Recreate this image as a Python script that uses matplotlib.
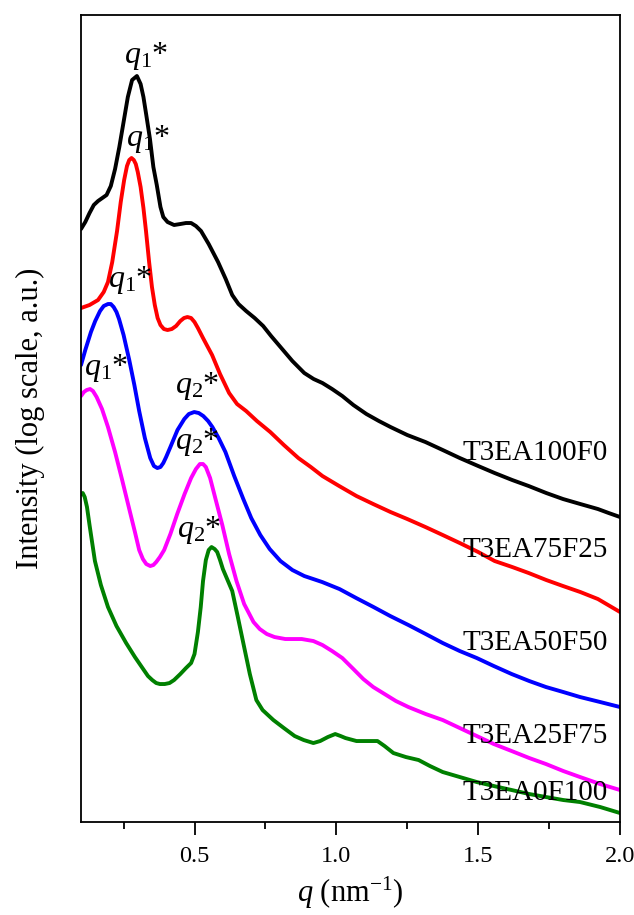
import matplotlib
matplotlib.use("Agg")
import matplotlib.pyplot as plt
from matplotlib.ticker import MultipleLocator, NullLocator

plt.rcParams["font.family"] = ["Liberation Serif", "DejaVu Serif"]
plt.rcParams["mathtext.fontset"] = "custom"
plt.rcParams["mathtext.rm"] = "Liberation Serif"
plt.rcParams["mathtext.it"] = "Liberation Serif:italic"

# SAXS profiles, q in nm^-1, intensity as stacked log values (a.u.)
q_100F0 = [0.10, 0.115, 0.13, 0.145, 0.16, 0.175, 0.19, 0.205, 0.22, 0.235, 0.25, 0.265,
           0.28, 0.297, 0.31, 0.32, 0.33, 0.343, 0.355, 0.367, 0.38, 0.39, 0.405, 0.428,
           0.45, 0.47, 0.488, 0.505, 0.523, 0.55, 0.583, 0.61, 0.633, 0.655, 0.682, 0.712,
           0.742, 0.77, 0.803, 0.845, 0.887, 0.92, 0.951, 0.985, 1.021, 1.06, 1.106, 1.15,
           1.191, 1.25, 1.314, 1.375, 1.435, 1.5, 1.558, 1.62, 1.678, 1.74, 1.799, 1.86,
           1.922, 1.96, 2.0]
i_100F0 = [5.93, 6.00, 6.09, 6.17, 6.21, 6.24, 6.27, 6.36, 6.53, 6.75, 7.00, 7.25,
           7.42, 7.46, 7.38, 7.25, 7.07, 6.83, 6.55, 6.37, 6.15, 6.05, 6.00, 5.97,
           5.98, 5.99, 5.99, 5.96, 5.91, 5.78, 5.60, 5.43, 5.27, 5.18, 5.11, 5.04,
           4.96, 4.86, 4.75, 4.61, 4.49, 4.43, 4.39, 4.33, 4.26, 4.17, 4.08, 4.01,
           3.95, 3.87, 3.80, 3.72, 3.64, 3.56, 3.49, 3.42, 3.36, 3.29, 3.23, 3.18,
           3.13, 3.09, 3.05]

q_75F25 = [0.10, 0.13, 0.16, 0.18, 0.195, 0.21, 0.227, 0.24, 0.252, 0.262, 0.27, 0.278,
           0.286, 0.293, 0.30, 0.31, 0.32, 0.329, 0.34, 0.35, 0.36, 0.37, 0.38, 0.392,
           0.405, 0.42, 0.435, 0.45, 0.463, 0.475, 0.488, 0.50, 0.512, 0.53, 0.545, 0.562,
           0.59, 0.622, 0.65, 0.682, 0.72, 0.767, 0.815, 0.866, 0.91, 0.951, 1.01, 1.071,
           1.13, 1.191, 1.25, 1.314, 1.375, 1.435, 1.5, 1.558, 1.62, 1.678, 1.74, 1.799,
           1.86, 1.922, 2.0]
i_75F25 = [5.14, 5.17, 5.22, 5.30, 5.40, 5.60, 5.91, 6.20, 6.42, 6.56, 6.62, 6.64,
           6.62, 6.58, 6.50, 6.35, 6.14, 5.91, 5.60, 5.35, 5.17, 5.04, 4.97, 4.93,
           4.92, 4.93, 4.96, 5.01, 5.04, 5.05, 5.04, 5.00, 4.94, 4.84, 4.76, 4.67,
           4.48, 4.29, 4.18, 4.11, 4.01, 3.90, 3.77, 3.64, 3.55, 3.46, 3.36, 3.26,
           3.18, 3.10, 3.03, 2.95, 2.87, 2.79, 2.70, 2.61, 2.55, 2.49, 2.42, 2.36,
           2.30, 2.23, 2.10]

q_50F50 = [0.10, 0.115, 0.135, 0.15, 0.167, 0.18, 0.195, 0.205, 0.215, 0.225, 0.234, 0.25,
           0.27, 0.288, 0.305, 0.325, 0.344, 0.357, 0.369, 0.38, 0.39, 0.40, 0.415, 0.44,
           0.464, 0.48, 0.499, 0.515, 0.531, 0.548, 0.563, 0.585, 0.609, 0.64, 0.672, 0.70,
           0.732, 0.765, 0.803, 0.845, 0.887, 0.95, 1.011, 1.07, 1.131, 1.19, 1.254, 1.315,
           1.375, 1.435, 1.495, 1.555, 1.618, 1.68, 1.739, 1.8, 1.859, 1.93, 2.0]
i_50F50 = [4.57, 4.72, 4.90, 5.01, 5.11, 5.16, 5.18, 5.18, 5.15, 5.10, 5.03, 4.87,
           4.62, 4.37, 4.11, 3.84, 3.64, 3.56, 3.54, 3.55, 3.59, 3.65, 3.75, 3.92,
           4.03, 4.08, 4.10, 4.09, 4.06, 4.01, 3.95, 3.84, 3.70, 3.46, 3.23, 3.04,
           2.87, 2.73, 2.61, 2.52, 2.46, 2.40, 2.33, 2.24, 2.15, 2.06, 1.97, 1.88,
           1.79, 1.71, 1.64, 1.56, 1.48, 1.41, 1.35, 1.30, 1.25, 1.20, 1.15]

q_25F75 = [0.10, 0.11, 0.12, 0.132, 0.142, 0.155, 0.174, 0.195, 0.22, 0.245, 0.27, 0.29,
           0.305, 0.318, 0.33, 0.344, 0.355, 0.365, 0.378, 0.393, 0.415, 0.439, 0.465, 0.488,
           0.505, 0.519, 0.53, 0.54, 0.555, 0.575, 0.598, 0.622, 0.648, 0.675, 0.708, 0.73,
           0.755, 0.782, 0.82, 0.878, 0.919, 0.951, 0.985, 1.021, 1.06, 1.095, 1.13, 1.17,
           1.21, 1.254, 1.315, 1.375, 1.435, 1.495, 1.555, 1.618, 1.68, 1.739, 1.8, 1.859,
           1.93, 2.0]
i_25F75 = [4.26, 4.30, 4.32, 4.33, 4.31, 4.25, 4.13, 3.95, 3.70, 3.42, 3.13, 2.90,
           2.72, 2.63, 2.58, 2.56, 2.57, 2.60, 2.65, 2.72, 2.88, 3.08, 3.28, 3.44,
           3.53, 3.58, 3.58, 3.55, 3.44, 3.22, 2.97, 2.68, 2.41, 2.18, 2.00, 1.93,
           1.88, 1.85, 1.83, 1.83, 1.81, 1.77, 1.71, 1.64, 1.53, 1.43, 1.35, 1.28,
           1.21, 1.15, 1.08, 1.02, 0.94, 0.86, 0.78, 0.71, 0.64, 0.58, 0.51, 0.45,
           0.38, 0.32]

q_0F100 = [0.10, 0.106, 0.113, 0.121, 0.13, 0.14, 0.149, 0.17, 0.195, 0.225, 0.259, 0.29,
           0.319, 0.336, 0.351, 0.365, 0.378, 0.395, 0.412, 0.428, 0.45, 0.47, 0.488, 0.50,
           0.512, 0.522, 0.53, 0.54, 0.55, 0.56, 0.571, 0.58, 0.59, 0.60, 0.615, 0.633,
           0.652, 0.672, 0.695, 0.718, 0.74, 0.778, 0.815, 0.853, 0.885, 0.919, 0.943, 0.97,
           0.996, 1.015, 1.032, 1.071, 1.11, 1.145, 1.17, 1.201, 1.245, 1.29, 1.33, 1.375,
           1.435, 1.495, 1.555, 1.618, 1.68, 1.739, 1.8, 1.859, 1.93, 2.0]
i_0F100 = [3.28, 3.29, 3.25, 3.15, 2.97, 2.78, 2.61, 2.37, 2.15, 1.96, 1.79, 1.65,
           1.53, 1.46, 1.42, 1.39, 1.38, 1.38, 1.39, 1.42, 1.48, 1.54, 1.59, 1.68,
           1.90, 2.15, 2.41, 2.62, 2.72, 2.75, 2.73, 2.70, 2.62, 2.53, 2.43, 2.31,
           2.06, 1.79, 1.48, 1.22, 1.12, 1.02, 0.94, 0.86, 0.82, 0.79, 0.81, 0.85,
           0.88, 0.86, 0.84, 0.81, 0.81, 0.81, 0.76, 0.69, 0.65, 0.62, 0.56, 0.50,
           0.45, 0.40, 0.36, 0.32, 0.28, 0.25, 0.22, 0.20, 0.15, 0.09]

names = ["T3EA100F0", "T3EA75F25", "T3EA50F50", "T3EA25F75", "T3EA0F100"]
q_data = [q_100F0, q_75F25, q_50F50, q_25F75, q_0F100]
i_data = [i_100F0, i_75F25, i_50F50, i_25F75, i_0F100]
colors = ["black", "#ff0000", "#0000ff", "#ff00ff", "#008000"]
label_y = [3.62, 2.65, 1.72, 0.79, 0.22]

# peak markers: (text, q, baseline)
peak_labels = [
    (r"$q_1$*", 0.251, 7.59),
    (r"$q_1$*", 0.259, 6.76),
    (r"$q_1$*", 0.195, 5.35),
    (r"$q_1$*", 0.111, 4.47),
    (r"$q_2$*", 0.432, 4.29),
    (r"$q_2$*", 0.432, 3.73),
    (r"$q_2$*", 0.439, 2.85),
]


def main() -> None:
    fig = plt.figure(figsize=(6.34, 9.15), dpi=100)
    ax = fig.add_axes([0.1278, 0.1016, 0.8502, 0.882])

    for q, inten, c in zip(q_data, i_data, colors):
        ax.plot(q, inten, color=c, lw=2.8, solid_joinstyle="round", solid_capstyle="round")

    for name, y in zip(names, label_y):
        ax.text(1.958, y, name, ha="right", va="baseline", fontsize=21)

    for txt, x, y in peak_labels:
        ax.text(x, y, txt, ha="left", va="baseline", fontsize=23)

    ax.set_xlim(0.1, 2.0)
    ax.set_ylim(0, 8.07)
    ax.xaxis.set_major_locator(MultipleLocator(0.5))
    ax.xaxis.set_minor_locator(MultipleLocator(0.25))
    ax.yaxis.set_major_locator(NullLocator())
    ax.tick_params(axis="x", which="major", direction="out", length=9, width=1.3,
                   labelsize=17.5, pad=8)
    ax.tick_params(axis="x", which="minor", direction="out", length=5, width=1.3)
    for sp in ax.spines.values():
        sp.set_linewidth(1.3)

    ax.set_xlabel(r"$q$ (nm$^{\mathregular{-1}}$)", fontsize=22, labelpad=6)
    ax.set_ylabel("Intensity (log scale, a.u.)", fontsize=22, labelpad=26)

    fig.savefig("out.png", dpi=100)


if __name__ == "__main__":
    main()
